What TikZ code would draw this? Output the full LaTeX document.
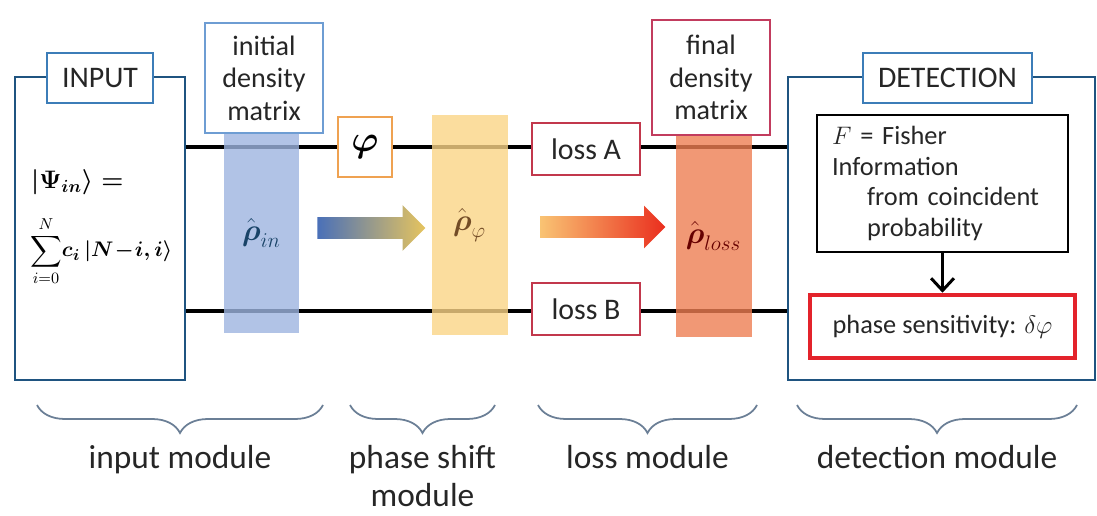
\documentclass[tikz,border=0pt]{standalone}
\usepackage{amsmath}
\usepackage{amssymb}
\usepackage{fontspec}
\setmainfont{Carlito}
\usetikzlibrary{arrows.meta, shapes.arrows, decorations.pathreplacing}

\definecolor{frameblue}{HTML}{1F5480}
\definecolor{tagblue}{HTML}{3C7DB8}
\definecolor{dmblue}{HTML}{6E9DD3}
\definecolor{colblue}{HTML}{9DB4E0}
\definecolor{colgold}{HTML}{FAD486}
\definecolor{colcoral}{HTML}{EE7E52}
\definecolor{phiorange}{HTML}{EFA251}
\definecolor{lossred}{HTML}{C2384C}
\definecolor{dmred}{HTML}{C23C5E}
\definecolor{sensred}{HTML}{E3232B}
\definecolor{bracegray}{HTML}{6B7F96}
\definecolor{textgray}{HTML}{262626}
\definecolor{flowblue}{HTML}{4A70B8}
\definecolor{flowgold}{HTML}{E6C45E}
\definecolor{flowpeach}{HTML}{F9C373}
\definecolor{flowred}{HTML}{EA2E1E}

\tikzset{
  module frame/.style={
    draw=frameblue,
    line width=1.6pt,
    inner sep=0pt
  },
  tag box/.style={
    draw=tagblue,
    line width=1.1pt,
    fill=white,
    inner sep=0pt,
    text=textgray,
    font=\fontsize{17}{20}\selectfont
  },
  dm box/.style={
    line width=1.1pt,
    fill=white,
    inner sep=0pt,
    align=center,
    text=textgray,
    minimum width=2.36cm,
    font=\fontsize{16}{18.5}\selectfont
  },
  state column/.style={
    inner sep=0pt,
    fill opacity=0.8,
    text opacity=1,
    minimum width=1.52cm,
    font=\fontsize{17}{20}\selectfont
  },
  loss box/.style={
    draw=lossred,
    line width=1.1pt,
    fill=white,
    inner sep=0pt,
    text=textgray,
    minimum width=2.16cm,
    minimum height=1.04cm,
    font=\fontsize{17}{20}\selectfont
  },
  flow arrow/.style={
    single arrow,
    inner xsep=0pt,
    inner ysep=0.21cm,
    single arrow tip angle=90
  },
  rail/.style={
    line width=2.4pt,
    black
  },
  module brace/.style={
    decorate,
    decoration={brace, mirror, amplitude=0.56cm},
    draw=bracegray,
    line width=1pt
  },
  module label/.style={
    below=3pt,
    text=textgray,
    align=center,
    font=\fontsize{19}{22}\selectfont
  }
}

\begin{document}
\begin{tikzpicture}[x=0.02cm, y=-0.02cm]
  \useasboundingbox (0,0) rectangle (1097,516);

  %% ---- input and detection frames ----
  \node[module frame, minimum width=3.4cm, minimum height=6.06cm] (inbox) at (100,228.5) {};
  \node[module frame, minimum width=6.14cm, minimum height=6.06cm] (detbox) at (941.5,228.5) {};
  \node[tag box, minimum width=2.12cm, minimum height=1.0cm] (intag) at (100,78) {INPUT};
  \node[tag box, minimum width=3.38cm, minimum height=1.0cm] (dettag) at (947.5,78) {DETECTION};

  \node[anchor=west, font=\fontsize{14}{16}\selectfont] (psi) at (25,182)
    {$\boldsymbol{\left|\Psi_{in}\right\rangle =}$};
  \node[anchor=west, font=\fontsize{12.5}{15}\selectfont] (sum) at (24,251)
    {$\displaystyle\sum_{i=0}^{N}\!\boldsymbol{c_i\left|N\!-\!i,i\right\rangle}$};

  %% ---- the two rails ----
  \coordinate (upper) at (0,147);
  \coordinate (lower) at (0,311);
  \draw[rail] (inbox.east |- upper) -- (detbox.west |- upper);
  \draw[rail] (inbox.east |- lower) -- (detbox.west |- lower);

  %% ---- density matrix columns ----
  \node[state column, fill=colblue, minimum height=4.0cm, text=frameblue!80!black] (colin) at (261.5,233)
    {$\hat{\boldsymbol{\rho}}_{in}$};
  \node[state column, fill=colgold, minimum height=4.4cm, text=brown!60!black] (colphi) at (469.5,225)
    {$\hat{\boldsymbol{\rho}}_{\varphi}$};
  \node[state column, fill=colcoral, minimum height=4.04cm, text=red!40!black] (colloss) at (713.5,236)
    {$\hat{\boldsymbol{\rho}}_{loss}$};

  \node[dm box, draw=dmblue, minimum height=2.2cm] (dmin) at (264,78) {initial\\density\\matrix};
  \node[dm box, draw=dmred, minimum height=2.3cm] (dmfin) at (711,77.5) {final\\density\\matrix};

  %% ---- phase shift and losses ----
  \node[draw=phiorange, line width=1.3pt, fill=white, inner sep=0pt,
        minimum width=1.08cm, minimum height=1.2cm, font=\fontsize{22}{24}\selectfont] (phi) at (365,147)
    {$\boldsymbol{\varphi}$};
  \node[loss box] (lossA) at (586,149) {loss A};
  \node[loss box] (lossB) at (586,309) {loss B};

  \node[flow arrow, minimum height=2.16cm, single arrow head extend=0.24cm,
        left color=flowblue, right color=flowgold] (flowA) at (366,228) {};
  \node[flow arrow, minimum height=2.5cm, single arrow head extend=0.21cm,
        left color=flowpeach, right color=flowred] (flowB) at (597.5,227) {};

  %% ---- detection ----
  \node[draw=black, line width=1.4pt, fill=white, inner xsep=0.3cm, inner ysep=0pt,
        text width=4.42cm, minimum height=2.74cm, align=left, text=textgray,
        font=\fontsize{15}{17.6}\selectfont] (fisher) at (942.5,183.5)
    {$F$ = Fisher\\ Information\\ \hspace*{20pt}from coincident\\ \hspace*{20pt}probability};
  \node[draw=sensred, line width=2.6pt, fill=white, inner sep=0pt,
        minimum width=5.3cm, minimum height=1.26cm, text=textgray,
        font=\fontsize{15}{18}\selectfont] (sens) at (942.5,326.5)
    {phase sensitivity: $\delta\varphi$};
  \draw[line width=1.7pt, -{Straight Barb[length=7pt, width=13pt]}] (fisher.south) -- (sens.north);

  %% ---- module braces ----
  \draw[module brace] (37,405) -- (323,405) node[module label, midway, yshift=-0.56cm] (modin) {input module};
  \draw[module brace] (350,405) -- (495,405) node[module label, midway, yshift=-0.56cm] (modphi) {phase shift\\module};
  \draw[module brace] (538,405) -- (757,405) node[module label, midway, yshift=-0.56cm] (modloss) {loss module};
  \draw[module brace] (797,405) -- (1077,405) node[module label, midway, yshift=-0.56cm] (moddet) {detection module};

\end{tikzpicture}
\end{document}
